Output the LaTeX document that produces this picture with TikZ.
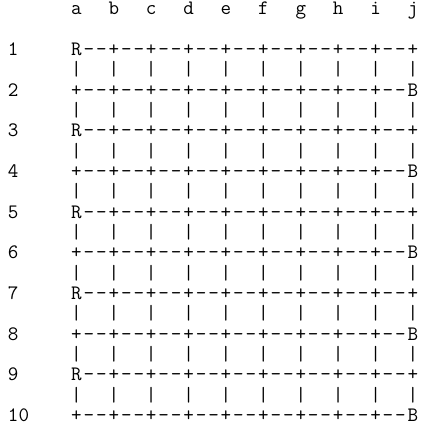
\documentclass[tikz,border=0pt]{standalone}

\def\charsep{12.46pt}
\def\linesep{20.33pt}

\begin{document}
\begin{tikzpicture}[x=\charsep, y=-\linesep]
\tikzstyle{glyph}=[anchor=base, inner sep=0pt, outer sep=0pt, text=black,
  font=\ttfamily\fontsize{20.5pt}{20.33pt}\selectfont]
\tikzstyle{rank label}=[glyph, anchor=base west]

\useasboundingbox (-7.97pt,14.8pt) rectangle ++(442pt,-433pt);

% Draw the file letters on top
\foreach \f [count=\n from 0] in {a,b,c,d,e,f,g,h,i,j}
    \node[glyph] (file-\f) at (5.5+3*\n, 0) {\f};

% Draw the rank numbers on the left
\foreach \r in {1,...,10}
    \node[rank label] (rank-\r) at (0, 2*\r) {\r};

% Odd ranks start with R
\foreach \r in {1,3,...,9} {
    \node[glyph] (cross-\r-0) at (5.5, 2*\r) {R};
    \foreach \c in {1,...,9}
        \node[glyph] (cross-\r-\c) at (5.5+3*\c, 2*\r) {+};
}
% Even ranks end with B
\foreach \r in {2,4,...,10} {
    \foreach \c in {0,...,8}
        \node[glyph] (cross-\r-\c) at (5.5+3*\c, 2*\r) {+};
    \node[glyph] (cross-\r-9) at (32.5, 2*\r) {B};
}

% Two dashes between neighbouring points of a rank
\foreach \r in {1,...,10}
    \foreach \c in {0,...,8}
        \foreach \d in {1,2}
            \node[glyph] (dash-\r-\c-\d) at (5.5+3*\c+\d, 2*\r) {-};

% The bars between two ranks
\foreach \r in {1,...,9}
    \foreach \c in {0,...,9}
        \node[glyph] (bar-\r-\c) at (5.5+3*\c, 2*\r+1) {|};
\end{tikzpicture}
\end{document}
